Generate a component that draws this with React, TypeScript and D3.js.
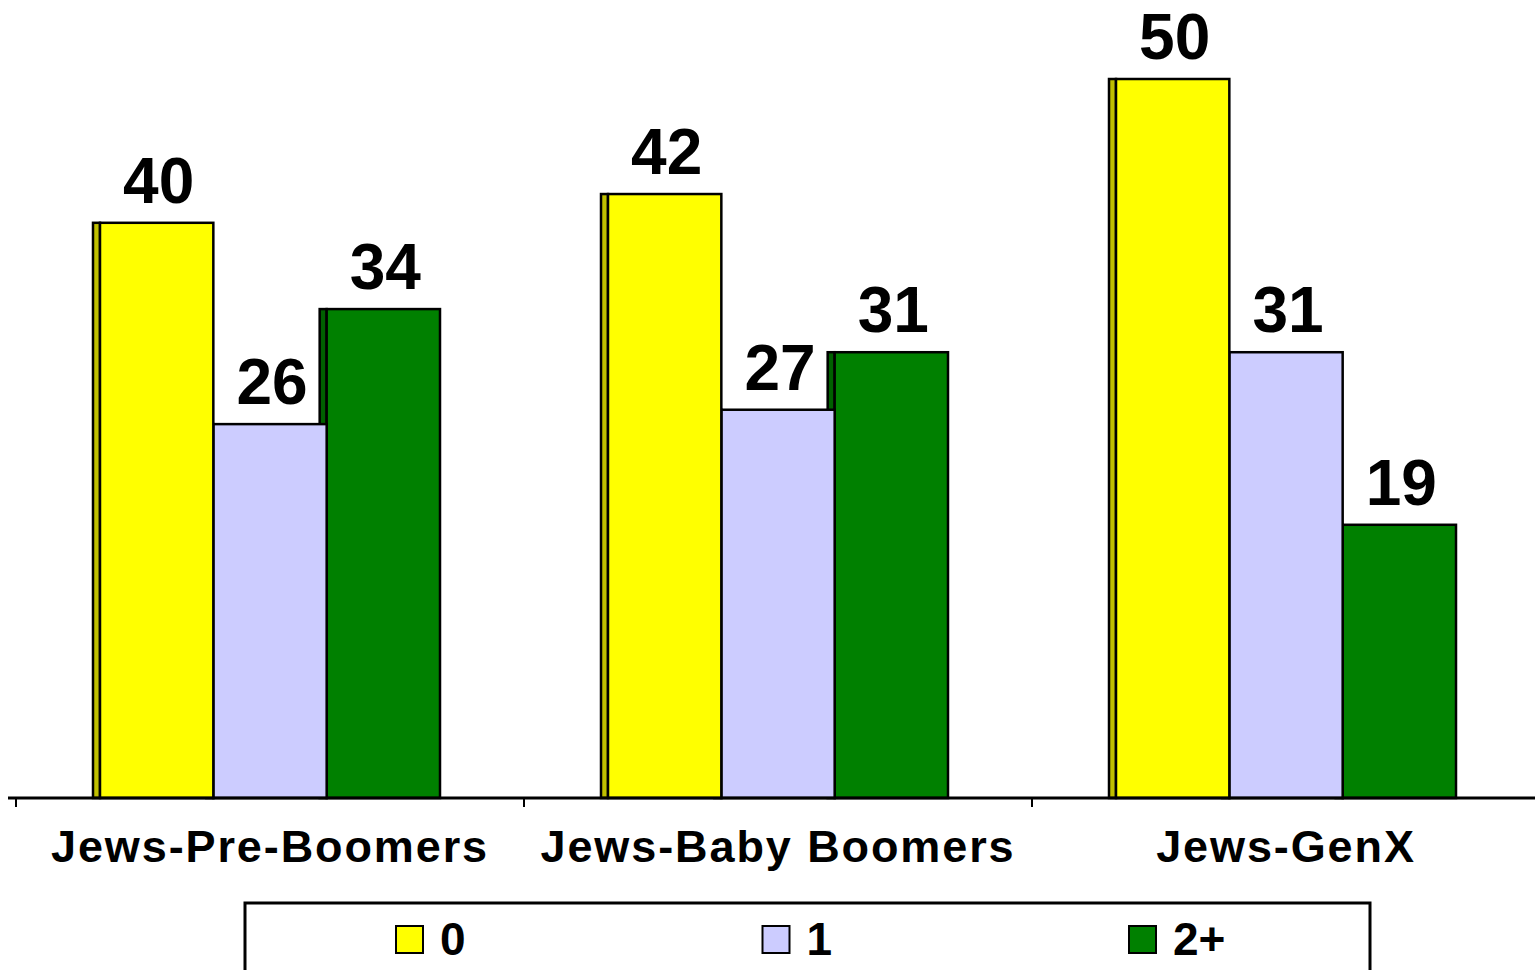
import React from "react";
import * as d3 from "d3";

const categories = ["Jews-Pre-Boomers", "Jews-Baby Boomers", "Jews-GenX"];
const seriesNames = ["0", "1", "2+"];
const values0 = [40, 42, 50];
const values1 = [26, 27, 31];
const values2 = [34, 31, 19];
const seriesValues = [values0, values1, values2];
const frontColors = ["#FFFF00", "#CCCCFF", "#008000"];
const sideColors = ["#BFBF00", "#9999BF", "#006000"];

const W = 1535;
const H = 970;
const FONT = "'Liberation Sans', Arial, Helvetica, sans-serif";

export default function App() {
  const x0 = d3.scaleBand<string>().domain(categories).range([16, 1540]).padding(0);
  const x1 = d3.scaleBand<string>().domain(seriesNames).range([84, 424]).padding(0);
  const y = d3.scaleLinear().domain([0, 50]).range([798, 79]);
  const side = 7;
  const ticks = [...categories.map((c) => x0(c) as number), 1540];

  return (
    <svg width={W} height={H} style={{ position: "absolute", left: 0, top: 0, background: "#fff" }}>
      {categories.map((c, ci) => {
        const gx = x0(c) as number;
        const order = seriesNames.map((_, i) => i).reverse();
        return (
          <g key={c}>
            {order.map((si) => {
              const v = seriesValues[si][ci];
              const bx = gx + (x1(seriesNames[si]) as number);
              const by = y(v);
              const bh = y(0) - by;
              const bw = x1.bandwidth();
              return (
                <g key={si}>
                  <rect x={bx - side} y={by} width={side} height={bh} fill={sideColors[si]} stroke="#000" strokeWidth={2.5} />
                  <rect x={bx} y={by} width={bw} height={bh} fill={frontColors[si]} stroke="#000" strokeWidth={2.5} />
                </g>
              );
            })}
            {seriesNames.map((s, si) => {
              const v = seriesValues[si][ci];
              const bx = gx + (x1(s) as number) + x1.bandwidth() / 2 + 2;
              return (
                <text key={s} x={bx} y={y(v) - 20} textAnchor="middle" fontFamily={FONT} fontWeight="bold" fontSize={64} fill="#000">
                  {v}
                </text>
              );
            })}
            <text x={gx + x0.bandwidth() / 2} y={862} textAnchor="middle" fontFamily={FONT} fontWeight="bold" fontSize={45} letterSpacing={1.9} fill="#000">
              {c}
            </text>
          </g>
        );
      })}
      <line x1={8} x2={W} y1={y(0)} y2={y(0)} stroke="#000" strokeWidth={3} />
      {ticks.map((t, i) => (
        <line key={i} x1={t} x2={t} y1={y(0)} y2={y(0) + 9} stroke="#000" strokeWidth={2} />
      ))}
      <rect x={245} y={903} width={1125} height={90} fill="#fff" stroke="#000" strokeWidth={3} />
      {seriesNames.map((s, i) => {
        const lx = 396 + i * 366.5;
        return (
          <g key={s}>
            <rect x={lx} y={926} width={27} height={27} fill={frontColors[i]} stroke="#000" strokeWidth={2} />
            <text x={lx + 44} y={955} fontFamily={FONT} fontWeight="bold" fontSize={46} fill="#000">
              {s}
            </text>
          </g>
        );
      })}
    </svg>
  );
}
